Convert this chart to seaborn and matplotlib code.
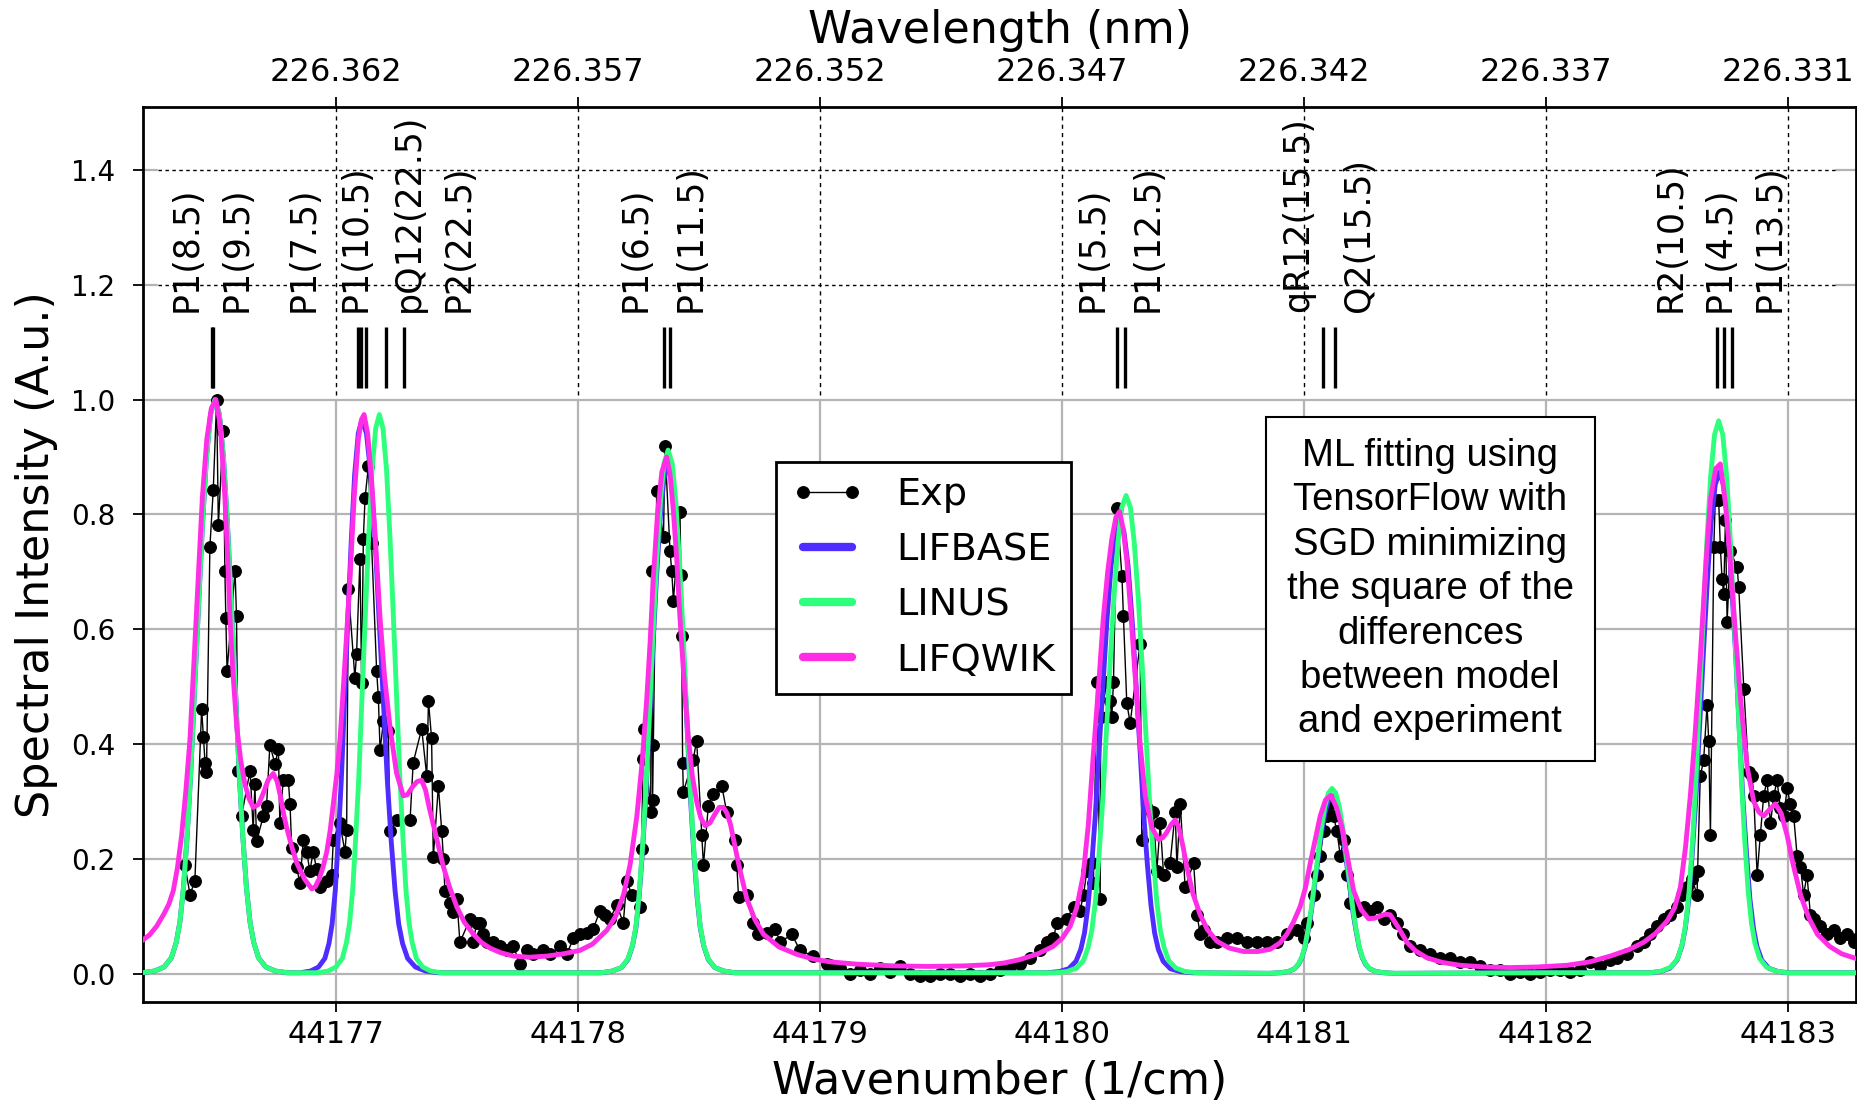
import numpy as np
import pandas as pd
import matplotlib
matplotlib.use("Agg")
import matplotlib.pyplot as plt
import seaborn as sns

# ---------------- data ----------------
exp_wn = [44176.376, 44176.397, 44176.417, 44176.445, 44176.452, 44176.459, 44176.465, 44176.479, 44176.493, 44176.507,
          44176.514, 44176.534, 44176.541, 44176.545, 44176.550, 44176.583, 44176.589, 44176.596, 44176.610, 44176.645,
          44176.658, 44176.665, 44176.672, 44176.700, 44176.713, 44176.727, 44176.748, 44176.762, 44176.768, 44176.782,
          44176.803, 44176.810, 44176.817, 44176.837, 44176.851, 44176.865, 44176.879, 44176.892, 44176.906, 44176.920,
          44176.934, 44176.961, 44176.982, 44176.989, 44177.016, 44177.037, 44177.044, 44177.051, 44177.078, 44177.085,
          44177.099, 44177.106, 44177.113, 44177.120, 44177.134, 44177.147, 44177.168, 44177.175, 44177.182, 44177.196,
          44177.216, 44177.223, 44177.251, 44177.306, 44177.319, 44177.354, 44177.375, 44177.382, 44177.395, 44177.402,
          44177.423, 44177.437, 44177.444, 44177.450, 44177.471, 44177.485, 44177.499, 44177.512, 44177.554, 44177.567,
          44177.581, 44177.595, 44177.609, 44177.623, 44177.650, 44177.678, 44177.705, 44177.733, 44177.760, 44177.788,
          44177.815, 44177.857, 44177.884, 44177.926, 44177.953, 44177.981, 44178.008, 44178.036, 44178.063, 44178.091,
          44178.112, 44178.132, 44178.160, 44178.187, 44178.201, 44178.222, 44178.256, 44178.263, 44178.268, 44178.272,
          44178.300, 44178.304, 44178.308, 44178.311, 44178.325, 44178.353, 44178.359, 44178.380, 44178.387, 44178.394,
          44178.421, 44178.425, 44178.428, 44178.432, 44178.435, 44178.475, 44178.490, 44178.511, 44178.518, 44178.538,
          44178.559, 44178.594, 44178.614, 44178.649, 44178.656, 44178.663, 44178.697, 44178.724, 44178.745, 44178.780,
          44178.814, 44178.835, 44178.883, 44178.917, 44178.972, 44179.027, 44179.041, 44179.083, 44179.124, 44179.165,
          44179.207, 44179.248, 44179.289, 44179.331, 44179.372, 44179.413, 44179.455, 44179.496, 44179.537, 44179.579,
          44179.620, 44179.661, 44179.702, 44179.744, 44179.785, 44179.826, 44179.868, 44179.909, 44179.937, 44179.964,
          44179.978, 44180.019, 44180.047, 44180.074, 44180.088, 44180.102, 44180.123, 44180.129, 44180.143, 44180.157,
          44180.159, 44180.185, 44180.198, 44180.205, 44180.212, 44180.226, 44180.247, 44180.253, 44180.267, 44180.281,
          44180.322, 44180.329, 44180.350, 44180.377, 44180.391, 44180.405, 44180.419, 44180.446, 44180.467, 44180.474,
          44180.488, 44180.508, 44180.543, 44180.557, 44180.570, 44180.584, 44180.612, 44180.639, 44180.680, 44180.722,
          44180.763, 44180.804, 44180.846, 44180.887, 44180.928, 44180.970, 44180.997, 44181.011, 44181.039, 44181.052,
          44181.066, 44181.080, 44181.094, 44181.107, 44181.121, 44181.135, 44181.149, 44181.163, 44181.176, 44181.190,
          44181.218, 44181.245, 44181.273, 44181.300, 44181.328, 44181.355, 44181.383, 44181.410, 44181.438, 44181.479,
          44181.521, 44181.562, 44181.603, 44181.645, 44181.686, 44181.727, 44181.769, 44181.810, 44181.851, 44181.893,
          44181.934, 44181.975, 44182.017, 44182.058, 44182.099, 44182.141, 44182.182, 44182.223, 44182.265, 44182.292,
          44182.333, 44182.375, 44182.402, 44182.430, 44182.457, 44182.485, 44182.512, 44182.540, 44182.561, 44182.581,
          44182.602, 44182.623, 44182.625, 44182.636, 44182.650, 44182.664, 44182.671, 44182.678, 44182.692, 44182.698,
          44182.712, 44182.719, 44182.726, 44182.733, 44182.740, 44182.747, 44182.760, 44182.788, 44182.795, 44182.816,
          44182.836, 44182.850, 44182.857, 44182.871, 44182.884, 44182.898, 44182.912, 44182.926, 44182.940, 44182.953,
          44182.967, 44182.981, 44182.995, 44183.008, 44183.022, 44183.036, 44183.050, 44183.063, 44183.077, 44183.091,
          44183.105, 44183.132, 44183.160, 44183.187, 44183.215, 44183.242, 44183.270, 44183.289]
exp_int = [0.189, 0.138, 0.162, 0.461, 0.413, 0.368, 0.351, 0.743, 0.843, 1.000,
           0.781, 0.946, 0.702, 0.619, 0.527, 0.702, 0.623, 0.354, 0.275, 0.354,
           0.251, 0.330, 0.231, 0.275, 0.292, 0.399, 0.365, 0.392, 0.262, 0.337,
           0.337, 0.296, 0.220, 0.186, 0.158, 0.234, 0.213, 0.179, 0.213, 0.182,
           0.151, 0.162, 0.172, 0.234, 0.262, 0.213, 0.251, 0.671, 0.516, 0.557,
           0.723, 0.506, 0.757, 0.829, 0.884, 0.750, 0.527, 0.482, 0.389, 0.440,
           0.423, 0.248, 0.268, 0.268, 0.368, 0.427, 0.344, 0.475, 0.410, 0.203,
           0.327, 0.248, 0.200, 0.145, 0.124, 0.107, 0.131, 0.055, 0.096, 0.055,
           0.089, 0.089, 0.069, 0.055, 0.055, 0.048, 0.041, 0.048, 0.017, 0.041,
           0.034, 0.041, 0.034, 0.048, 0.034, 0.062, 0.069, 0.072, 0.079, 0.110,
           0.103, 0.096, 0.120, 0.089, 0.162, 0.138, 0.117, 0.217, 0.375, 0.427,
           0.282, 0.702, 0.303, 0.399, 0.840, 0.760, 0.919, 0.736, 0.702, 0.650,
           0.805, 0.695, 0.588, 0.368, 0.317, 0.372, 0.406, 0.241, 0.189, 0.292,
           0.313, 0.327, 0.282, 0.234, 0.189, 0.134, 0.138, 0.089, 0.069, 0.072,
           0.079, 0.055, 0.069, 0.041, 0.031, 0.017, 0.015, 0.010, 0.000, 0.007,
           0.000, 0.010, 0.003, 0.014, 0.000, -0.003, -0.003, 0.000, 0.000, -0.003,
           0.000, -0.003, 0.000, 0.007, 0.014, 0.017, 0.028, 0.041, 0.055, 0.062,
           0.089, 0.096, 0.117, 0.110, 0.138, 0.179, 0.193, 0.158, 0.509, 0.131,
           0.447, 0.509, 0.475, 0.447, 0.509, 0.812, 0.692, 0.623, 0.471, 0.437,
           0.575, 0.234, 0.289, 0.282, 0.179, 0.262, 0.172, 0.193, 0.282, 0.186,
           0.296, 0.151, 0.193, 0.103, 0.069, 0.076, 0.055, 0.055, 0.062, 0.062,
           0.055, 0.055, 0.055, 0.055, 0.069, 0.076, 0.062, 0.089, 0.138, 0.172,
           0.206, 0.248, 0.275, 0.296, 0.275, 0.248, 0.206, 0.234, 0.172, 0.124,
           0.110, 0.117, 0.110, 0.117, 0.096, 0.103, 0.089, 0.069, 0.048, 0.041,
           0.034, 0.028, 0.028, 0.021, 0.021, 0.014, 0.007, 0.007, 0.000, 0.003,
           0.000, 0.003, 0.007, 0.007, 0.003, 0.007, 0.021, 0.014, 0.024, 0.028,
           0.034, 0.048, 0.055, 0.069, 0.083, 0.096, 0.103, 0.117, 0.138, 0.151,
           0.165, 0.138, 0.179, 0.344, 0.372, 0.468, 0.406, 0.241, 0.743, 0.826,
           0.826, 0.743, 0.688, 0.661, 0.791, 0.613, 0.736, 0.709, 0.674, 0.496,
           0.351, 0.344, 0.310, 0.172, 0.241, 0.310, 0.337, 0.262, 0.310, 0.337,
           0.289, 0.275, 0.323, 0.296, 0.275, 0.206, 0.186, 0.138, 0.172, 0.103,
           0.096, 0.083, 0.069, 0.076, 0.062, 0.069, 0.055, 0.062]

lifbase_wn = [
    44176.19, 44176.20, 44176.25, 44176.29, 44176.32, 44176.34, 44176.355, 44176.37, 44176.385, 44176.40,
    44176.415, 44176.432, 44176.448, 44176.465, 44176.482, 44176.50, 44176.518, 44176.535, 44176.552, 44176.568,
    44176.585, 44176.60, 44176.615, 44176.63, 44176.645, 44176.66, 44176.68, 44176.71, 44176.75, 44176.80,
    44176.852, 44176.895, 44176.928, 44176.954, 44176.971, 44176.984, 44176.997, 44177.009, 44177.022, 44177.035,
    44177.049, 44177.063, 44177.077, 44177.092, 44177.107, 44177.126, 44177.144, 44177.162, 44177.178, 44177.196,
    44177.212, 44177.228, 44177.244, 44177.259, 44177.275, 44177.296, 44177.328, 44177.37, 44177.422, 44178.0,
    44178.096, 44178.142, 44178.179, 44178.206, 44178.225, 44178.239, 44178.252, 44178.266, 44178.28, 44178.294,
    44178.309, 44178.324, 44178.34, 44178.355, 44178.372, 44178.389, 44178.404, 44178.42, 44178.435, 44178.45,
    44178.464, 44178.478, 44178.492, 44178.505, 44178.519, 44178.538, 44178.565, 44178.602, 44178.648, 44179.0,
    44179.937, 44179.987, 44180.027, 44180.057, 44180.077, 44180.092, 44180.107, 44180.122, 44180.137, 44180.152,
    44180.169, 44180.185, 44180.202, 44180.219, 44180.237, 44180.255, 44180.272, 44180.289, 44180.305, 44180.322,
    44180.337, 44180.352, 44180.367, 44180.382, 44180.397, 44180.417, 44180.447, 44180.487, 44180.537,
    44180.857, 44180.90, 44180.934, 44180.96, 44180.977, 44180.99, 44181.003, 44181.016, 44181.029, 44181.042,
    44181.057, 44181.07, 44181.085, 44181.10, 44181.115, 44181.13, 44181.145, 44181.16, 44181.173, 44181.188,
    44181.201, 44181.214, 44181.227, 44181.24, 44181.253, 44181.27, 44181.296, 44181.33, 44181.373, 44182.0,
    44182.424, 44182.472, 44182.511, 44182.54, 44182.56, 44182.574, 44182.589, 44182.603, 44182.618, 44182.633,
    44182.649, 44182.665, 44182.681, 44182.698, 44182.715, 44182.732, 44182.749, 44182.765, 44182.782, 44182.797,
    44182.812, 44182.827, 44182.841, 44182.856, 44182.870, 44182.89, 44182.919, 44182.958, 44183.006, 44183.285]
lifbase_int = [
    0.002, 0.002, 0.005, 0.012, 0.028, 0.055, 0.090, 0.150, 0.240, 0.350,
    0.490, 0.640, 0.780, 0.900, 0.975, 1.000, 0.975, 0.900, 0.780, 0.640,
    0.490, 0.350, 0.240, 0.150, 0.090, 0.055, 0.028, 0.012, 0.005, 0.002,
    0.002, 0.005, 0.012, 0.027, 0.053, 0.087, 0.145, 0.232, 0.338, 0.473,
    0.618, 0.753, 0.869, 0.941, 0.965, 0.941, 0.869, 0.753, 0.618, 0.473,
    0.338, 0.232, 0.145, 0.087, 0.053, 0.027, 0.012, 0.005, 0.002, 0.002,
    0.002, 0.005, 0.011, 0.025, 0.049, 0.080, 0.133, 0.212, 0.310, 0.434,
    0.566, 0.690, 0.797, 0.863, 0.885, 0.863, 0.797, 0.690, 0.566, 0.434,
    0.310, 0.212, 0.133, 0.080, 0.049, 0.025, 0.011, 0.005, 0.002, 0.002,
    0.002, 0.004, 0.009, 0.022, 0.043, 0.071, 0.119, 0.190, 0.277, 0.387,
    0.506, 0.616, 0.711, 0.770, 0.790, 0.770, 0.711, 0.616, 0.506, 0.387,
    0.277, 0.190, 0.119, 0.071, 0.043, 0.022, 0.009, 0.004, 0.002,
    0.001, 0.002, 0.004, 0.009, 0.017, 0.028, 0.046, 0.075, 0.108, 0.152,
    0.199, 0.242, 0.279, 0.302, 0.310, 0.302, 0.279, 0.242, 0.199, 0.152,
    0.108, 0.075, 0.046, 0.028, 0.017, 0.009, 0.004, 0.002, 0.001, 0.002,
    0.002, 0.004, 0.010, 0.024, 0.048, 0.079, 0.131, 0.210, 0.306, 0.428,
    0.559, 0.682, 0.787, 0.852, 0.874, 0.852, 0.787, 0.682, 0.559, 0.428,
    0.306, 0.210, 0.131, 0.079, 0.048, 0.024, 0.010, 0.004, 0.002, 0.002]

linus_wn = [
    44176.19, 44176.20, 44176.25, 44176.29, 44176.32, 44176.34, 44176.355, 44176.37, 44176.385, 44176.40,
    44176.415, 44176.432, 44176.448, 44176.465, 44176.482, 44176.50, 44176.518, 44176.535, 44176.552, 44176.568,
    44176.585, 44176.60, 44176.615, 44176.63, 44176.645, 44176.66, 44176.68, 44176.71, 44176.75, 44176.80,
    44176.924, 44176.967, 44177.0, 44177.026, 44177.043, 44177.056, 44177.069, 44177.081, 44177.094, 44177.107,
    44177.121, 44177.135, 44177.149, 44177.164, 44177.179, 44177.194, 44177.209, 44177.223, 44177.237, 44177.251,
    44177.264, 44177.277, 44177.289, 44177.302, 44177.315, 44177.332, 44177.358, 44177.391, 44177.434, 44178.0,
    44178.096, 44178.142, 44178.179, 44178.206, 44178.225, 44178.239, 44178.252, 44178.266, 44178.28, 44178.294,
    44178.309, 44178.324, 44178.34, 44178.355, 44178.372, 44178.389, 44178.404, 44178.42, 44178.435, 44178.45,
    44178.464, 44178.478, 44178.492, 44178.505, 44178.519, 44178.538, 44178.565, 44178.602, 44178.648, 44179.0,
    44179.97, 44180.019, 44180.058, 44180.088, 44180.107, 44180.122, 44180.137, 44180.151, 44180.166, 44180.181,
    44180.197, 44180.213, 44180.23, 44180.246, 44180.264, 44180.282, 44180.298, 44180.315, 44180.331, 44180.347,
    44180.362, 44180.377, 44180.391, 44180.406, 44180.421, 44180.44, 44180.47, 44180.509, 44180.558,
    44180.857, 44180.90, 44180.934, 44180.96, 44180.977, 44180.99, 44181.003, 44181.016, 44181.029, 44181.042,
    44181.057, 44181.07, 44181.085, 44181.10, 44181.115, 44181.13, 44181.145, 44181.16, 44181.173, 44181.188,
    44181.201, 44181.214, 44181.227, 44181.24, 44181.253, 44181.27, 44181.296, 44181.33, 44181.373, 44182.0,
    44182.43, 44182.477, 44182.515, 44182.543, 44182.562, 44182.576, 44182.59, 44182.604, 44182.618, 44182.632,
    44182.648, 44182.663, 44182.679, 44182.695, 44182.712, 44182.729, 44182.745, 44182.761, 44182.776, 44182.792,
    44182.806, 44182.82, 44182.834, 44182.848, 44182.862, 44182.881, 44182.909, 44182.947, 44182.994, 44183.285]
linus_int = [
    0.002, 0.002, 0.005, 0.012, 0.028, 0.055, 0.090, 0.150, 0.240, 0.350,
    0.490, 0.640, 0.780, 0.900, 0.975, 1.000, 0.975, 0.900, 0.780, 0.640,
    0.490, 0.350, 0.240, 0.150, 0.090, 0.055, 0.028, 0.012, 0.005, 0.002,
    0.002, 0.005, 0.012, 0.027, 0.054, 0.088, 0.146, 0.234, 0.341, 0.477,
    0.623, 0.760, 0.877, 0.950, 0.974, 0.950, 0.877, 0.760, 0.623, 0.477,
    0.341, 0.234, 0.146, 0.088, 0.054, 0.027, 0.012, 0.005, 0.002, 0.002,
    0.002, 0.005, 0.011, 0.026, 0.050, 0.082, 0.137, 0.219, 0.319, 0.447,
    0.584, 0.711, 0.821, 0.889, 0.912, 0.889, 0.821, 0.711, 0.584, 0.447,
    0.319, 0.219, 0.137, 0.082, 0.050, 0.026, 0.011, 0.005, 0.002, 0.002,
    0.002, 0.004, 0.010, 0.023, 0.046, 0.075, 0.125, 0.200, 0.292, 0.408,
    0.533, 0.650, 0.750, 0.812, 0.833, 0.812, 0.750, 0.650, 0.533, 0.408,
    0.292, 0.200, 0.125, 0.075, 0.046, 0.023, 0.010, 0.004, 0.002,
    0.001, 0.002, 0.004, 0.009, 0.018, 0.029, 0.048, 0.078, 0.113, 0.158,
    0.207, 0.252, 0.291, 0.315, 0.323, 0.315, 0.291, 0.252, 0.207, 0.158,
    0.113, 0.078, 0.048, 0.029, 0.018, 0.009, 0.004, 0.002, 0.001, 0.002,
    0.002, 0.005, 0.012, 0.027, 0.053, 0.087, 0.144, 0.231, 0.337, 0.472,
    0.616, 0.751, 0.867, 0.939, 0.963, 0.939, 0.867, 0.751, 0.616, 0.472,
    0.337, 0.231, 0.144, 0.087, 0.053, 0.027, 0.012, 0.005, 0.002, 0.002]

lifqwik_wn = [
    44176.19, 44176.23, 44176.259, 44176.29, 44176.31, 44176.328, 44176.345, 44176.362, 44176.38, 44176.397,
    44176.414, 44176.431, 44176.448, 44176.466, 44176.485, 44176.504, 44176.522, 44176.541, 44176.552, 44176.562,
    44176.575, 44176.59, 44176.607, 44176.624, 44176.641, 44176.658, 44176.68, 44176.70, 44176.72, 44176.741,
    44176.757, 44176.77, 44176.783, 44176.796, 44176.817, 44176.838, 44176.87, 44176.90, 44176.915, 44176.93,
    44176.946, 44176.962, 44176.976, 44176.99, 44177.004, 44177.017, 44177.038, 44177.058, 44177.075, 44177.092,
    44177.105, 44177.116, 44177.131, 44177.147, 44177.165, 44177.182, 44177.20, 44177.223, 44177.25, 44177.278,
    44177.295, 44177.315, 44177.335, 44177.354, 44177.37, 44177.385, 44177.402, 44177.425, 44177.444, 44177.47,
    44177.499, 44177.53, 44177.568, 44177.60, 44177.636, 44177.68, 44177.733, 44177.80, 44177.871, 44177.94,
    44178.008, 44178.06, 44178.119, 44178.155, 44178.188, 44178.215, 44178.243, 44178.265, 44178.284, 44178.298,
    44178.311, 44178.328, 44178.346, 44178.366, 44178.38, 44178.394, 44178.408, 44178.421, 44178.438, 44178.456,
    44178.472, 44178.49, 44178.507, 44178.525, 44178.545, 44178.565, 44178.583, 44178.60, 44178.615, 44178.63,
    44178.656, 44178.675, 44178.697, 44178.73, 44178.766, 44178.83, 44178.904, 44178.97, 44179.041, 44179.15,
    44179.30, 44179.45, 44179.60, 44179.70, 44179.76, 44179.826, 44179.90, 44179.963, 44180.0, 44180.033,
    44180.06, 44180.087, 44180.108, 44180.128, 44180.15, 44180.17, 44180.188, 44180.205, 44180.222, 44180.237,
    44180.252, 44180.267, 44180.285, 44180.302, 44180.322, 44180.343, 44180.37, 44180.398, 44180.415, 44180.43,
    44180.45, 44180.467, 44180.482, 44180.50, 44180.515, 44180.54, 44180.57, 44180.60, 44180.639, 44180.69,
    44180.749, 44180.81, 44180.86, 44180.90, 44180.928, 44180.955, 44180.983, 44181.005, 44181.025, 44181.046,
    44181.066, 44181.088, 44181.11, 44181.133, 44181.156, 44181.18, 44181.204, 44181.235, 44181.266, 44181.29,
    44181.31, 44181.335, 44181.355, 44181.39, 44181.424, 44181.46, 44181.507, 44181.57, 44181.645, 44181.75,
    44181.851, 44181.96, 44182.086, 44182.18, 44182.264, 44182.34, 44182.402, 44182.45, 44182.499, 44182.53,
    44182.554, 44182.575, 44182.595, 44182.615, 44182.636, 44182.657, 44182.678, 44182.70, 44182.719, 44182.74,
    44182.76, 44182.78, 44182.802, 44182.83, 44182.857, 44182.878, 44182.898, 44182.92, 44182.946, 44182.97,
    44182.995, 44183.02, 44183.05, 44183.085, 44183.12, 44183.17, 44183.22, 44183.285]
lifqwik_int = [
    0.055, 0.068, 0.083, 0.105, 0.122, 0.145, 0.185, 0.240, 0.320, 0.410,
    0.550, 0.690, 0.830, 0.930, 0.985, 1.000, 0.955, 0.830, 0.730, 0.620,
    0.520, 0.430, 0.370, 0.330, 0.305, 0.290, 0.295, 0.315, 0.338, 0.349,
    0.335, 0.310, 0.280, 0.255, 0.222, 0.193, 0.165, 0.148, 0.152, 0.165,
    0.185, 0.213, 0.250, 0.300, 0.350, 0.410, 0.550, 0.690, 0.830, 0.930,
    0.965, 0.974, 0.940, 0.860, 0.740, 0.620, 0.520, 0.430, 0.350, 0.310,
    0.312, 0.325, 0.335, 0.337, 0.320, 0.290, 0.260, 0.220, 0.186, 0.150,
    0.117, 0.090, 0.069, 0.055, 0.045, 0.037, 0.031, 0.029, 0.031, 0.035,
    0.041, 0.052, 0.076, 0.100, 0.138, 0.190, 0.275, 0.370, 0.480, 0.580,
    0.690, 0.800, 0.874, 0.900, 0.870, 0.805, 0.720, 0.620, 0.510, 0.410,
    0.345, 0.300, 0.272, 0.258, 0.263, 0.278, 0.290, 0.290, 0.280, 0.260,
    0.206, 0.170, 0.131, 0.095, 0.069, 0.047, 0.034, 0.026, 0.021, 0.017,
    0.014, 0.013, 0.014, 0.016, 0.019, 0.025, 0.035, 0.048, 0.062, 0.083,
    0.115, 0.172, 0.260, 0.378, 0.500, 0.620, 0.700, 0.757, 0.795, 0.805,
    0.775, 0.720, 0.620, 0.516, 0.400, 0.310, 0.255, 0.234, 0.237, 0.245,
    0.260, 0.268, 0.255, 0.220, 0.186, 0.140, 0.103, 0.077, 0.057, 0.045,
    0.039, 0.039, 0.043, 0.054, 0.069, 0.090, 0.117, 0.150, 0.193, 0.235,
    0.275, 0.303, 0.311, 0.290, 0.255, 0.200, 0.145, 0.112, 0.096, 0.097,
    0.100, 0.104, 0.103, 0.080, 0.055, 0.040, 0.028, 0.020, 0.015, 0.012,
    0.011, 0.012, 0.015, 0.021, 0.031, 0.042, 0.055, 0.070, 0.092, 0.115,
    0.151, 0.220, 0.310, 0.420, 0.550, 0.700, 0.826, 0.880, 0.888, 0.820,
    0.720, 0.600, 0.480, 0.360, 0.300, 0.282, 0.275, 0.285, 0.296, 0.280,
    0.241, 0.190, 0.138, 0.097, 0.069, 0.048, 0.035, 0.026]

# line assignments (labels and their positions), stick positions
line_labels = ["P1(8.5)", "P1(9.5)", "P1(7.5)", "P1(10.5)", "pQ12(22.5)", "P2(22.5)",
               "P1(6.5)", "P1(11.5)", "P1(5.5)", "P1(12.5)", "qR12(15.5)", "Q2(15.5)",
               "R2(10.5)", "P1(4.5)", "P1(13.5)"]
label_wn = [44176.384, 44176.591, 44176.868, 44177.083, 44177.302, 44177.508,
            44178.236, 44178.465, 44180.124, 44180.354, 44180.975, 44181.225,
            44182.512, 44182.717, 44182.921]
stick_wn = [44176.486, 44176.492, 44177.089, 44177.105, 44177.122, 44177.208, 44177.279,
            44178.355, 44178.379, 44180.226, 44180.260, 44181.078, 44181.128,
            44182.706, 44182.735, 44182.767]

wn_ticks = [44177, 44178, 44179, 44180, 44181, 44182, 44183]
wl_tick_labels = ["226.362", "226.357", "226.352", "226.347", "226.342", "226.337", "226.331"]
y_ticks = [0.0, 0.2, 0.4, 0.6, 0.8, 1.0, 1.2, 1.4]

note = ("ML fitting using\nTensorFlow with\nSGD minimizing\nthe square of the\n"
        "differences\nbetween model\nand experiment")

# ---------------- style ----------------
sns.set_theme(style="white")
plt.rcParams['font.family'] = ['DejaVu Sans']
plt.rcParams.update({"text.color": "black", "axes.labelcolor": "black",
                     "xtick.color": "black", "ytick.color": "black"})

C_BLUE = "#4F2CFF"
C_GREEN = "#2EFF7C"
C_MAG = "#FF2EE6"

fig = plt.figure(figsize=(18.58, 11.06), dpi=100)
ax = fig.add_axes([0.077, 0.094, 0.922, 0.809])

XMIN, XMAX = 44176.203, 44183.28
YMIN, YMAX = -0.049, 1.509
ax.set_xlim(XMIN, XMAX)
ax.set_ylim(YMIN, YMAX)

# grey grid in the lower region, dotted guide lines in the upper region
frac_top = (1.0 - YMIN) / (YMAX - YMIN)
for yv in [0.0, 0.2, 0.4, 0.6, 0.8, 1.0]:
    ax.axhline(yv, color="#b4b4b4", lw=1.6, zorder=0)
for yv in [1.2, 1.4]:
    ax.axhline(yv, xmin=0, xmax=0.008, color="#b4b4b4", lw=1.6, zorder=0)
    ax.axhline(yv, xmin=0.988, xmax=1, color="#b4b4b4", lw=1.6, zorder=0)
    ax.axhline(yv, xmin=0.009, xmax=0.988, color="black", lw=1.0,
               linestyle=(0, (2.5, 2.5)), zorder=0)
for xv in wn_ticks:
    ax.axvline(xv, ymin=0, ymax=frac_top, color="#b4b4b4", lw=1.6, zorder=0)
    ax.axvline(xv, ymin=frac_top + 0.005, ymax=1, color="black", lw=1.0,
               linestyle=(0, (3, 3)), zorder=0)

# data
exp_df = pd.DataFrame({"wn": exp_wn, "I": exp_int})
sns.lineplot(data=exp_df, x="wn", y="I", ax=ax, color="black", lw=1.0,
             marker="o", markersize=8.5, markeredgecolor="black",
             estimator=None, sort=False, zorder=2, label="Exp")
sns.lineplot(x=lifbase_wn, y=lifbase_int, ax=ax, color=C_BLUE, lw=3.5,
             estimator=None, sort=False, zorder=3, label="LIFBASE")
sns.lineplot(x=linus_wn, y=linus_int, ax=ax, color=C_GREEN, lw=3.5,
             estimator=None, sort=False, zorder=4, label="LINUS")
sns.lineplot(x=lifqwik_wn, y=lifqwik_int, ax=ax, color=C_MAG, lw=3.5,
             estimator=None, sort=False, zorder=5, label="LIFQWIK")

# line sticks and labels
ax.vlines(stick_wn, 1.02, 1.126, color="black", lw=2.4, zorder=3)
for lab, xv in zip(line_labels, label_wn):
    ax.text(xv, 1.152, lab, rotation=90, ha="center", va="bottom",
            fontsize=25, color="black", zorder=3)

# axes cosmetics
ax.set_xticks(wn_ticks)
ax.set_xticklabels([str(t) for t in wn_ticks])
ax.set_yticks(y_ticks)
ax.set_yticklabels([f"{v:.1f}" for v in y_ticks])
ax.tick_params(axis="both", which="major", direction="out",
               length=7, width=1.3, color="black", bottom=True, left=True)
ax.tick_params(axis="x", labelsize=22, pad=6)
ax.tick_params(axis="y", labelsize=20, pad=13)
ax.set_xlabel("Wavenumber (1/cm)", fontsize=32, labelpad=8)
ax.set_ylabel("Spectral Intensity (A.u.)", fontsize=32, labelpad=9)
for sp in ax.spines.values():
    sp.set_color("black")
    sp.set_linewidth(2.0)

ax2 = ax.twiny()
ax2.set_xlim(XMIN, XMAX)
ax2.set_xticks(wn_ticks)
ax2.set_xticklabels(wl_tick_labels)
ax2.tick_params(axis="x", labelsize=23, direction="out", length=7, width=1.3,
                color="black", pad=7)
ax2.set_xlabel("Wavelength (nm)", fontsize=32, labelpad=10)
for sp in ax2.spines.values():
    sp.set_visible(False)

# legend
handles, labels = ax.get_legend_handles_labels()
leg = ax.legend(handles, labels, loc="upper left", bbox_to_anchor=(0.3695, 0.6034),
                borderaxespad=0, fontsize=27.5, numpoints=2, handlelength=1.9,
                handletextpad=0.85, labelspacing=0.5, borderpad=0.4,
                frameon=True, fancybox=False, edgecolor="black", framealpha=1)
leg.get_frame().set_linewidth(2.0)
for lh in leg.get_lines():
    if lh.get_label() != "Exp":
        lh.set_linewidth(6)

# annotation box
ax.text(44181.52, 0.67, note, ha="center", va="center", fontsize=27.5,
        color="black", family=["Liberation Sans", "DejaVu Sans"], linespacing=1.3,
        bbox=dict(boxstyle="square,pad=0.55", facecolor="white",
                  edgecolor="black", linewidth=1.5), zorder=6)

fig.savefig("out.png", dpi=100)
